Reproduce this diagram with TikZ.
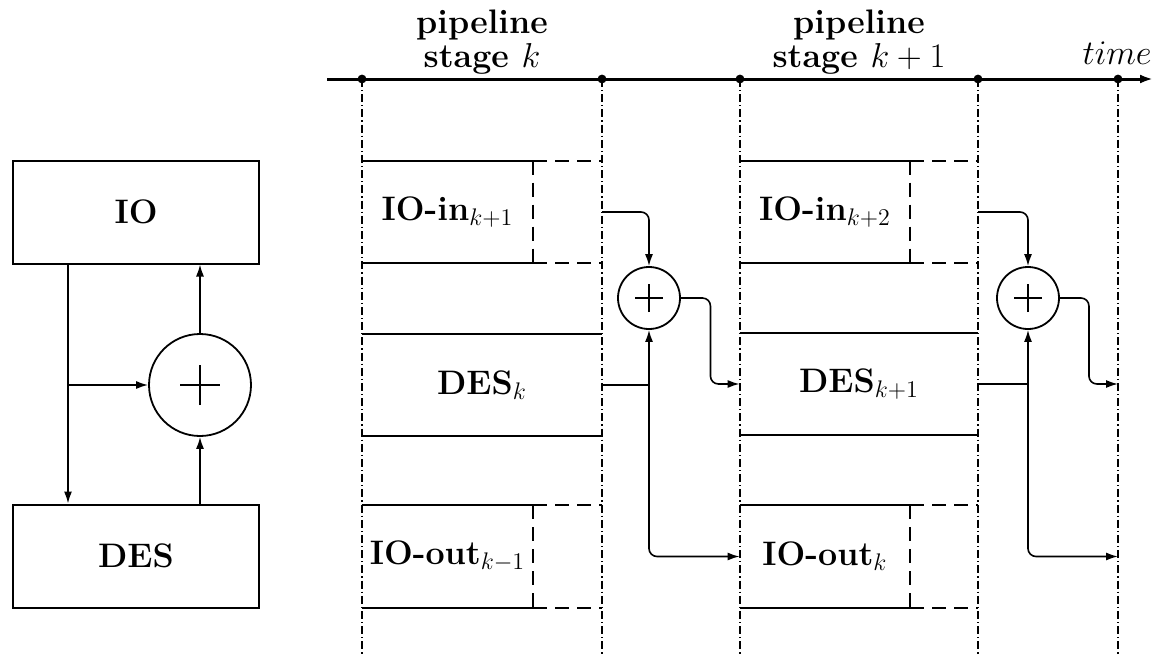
\documentclass[tikz,border=0pt]{standalone}
\usepackage{tikz}
\usetikzlibrary{arrows.meta,positioning,calc}
\newcommand{\lblfont}{\fontsize{17}{17}\selectfont\bfseries}

\begin{document}
\begin{tikzpicture}[
    x=0.5pt, y=-0.5pt,
    block/.style={draw, line width=1pt, minimum width=123pt, minimum height=51.5pt, font=\lblfont},
    slot/.style={inner sep=0pt, minimum height=51pt, font=\lblfont},
    edge/.style={line width=1pt},
    openedge/.style={line width=1pt, dash pattern=on 7pt off 4pt},
    stageline/.style={line width=0.8pt, dash pattern=on 4pt off 1.5pt on 0.6pt off 1.5pt},
    adder/.style={circle, draw, line width=0.9pt, inner sep=0pt,
      path picture={\draw[line width=0.7pt]
        ([xshift=-#1]path picture bounding box.center) -- ([xshift=#1]path picture bounding box.center)
        ([yshift=-#1]path picture bounding box.center) -- ([yshift=#1]path picture bounding box.center);}},
    arrow/.style={-{Latex[length=6pt,width=4pt]}, line width=0.8pt},
    wire/.style={line width=0.8pt},
    stagelabel/.style={anchor=south, inner sep=0pt, align=center, font=\lblfont}
  ]
    \useasboundingbox (0,0) rectangle (1163,659);

    % left: the loop
    \node[block] (io) at (136,212) {IO};
    \node[block] (des) at (136,556) {DES};
    \node[adder=10pt, minimum size=51pt] (sum) at (200,385) {};
    \coordinate (tap) at ([xshift=28pt]io.south west);
    \draw[arrow] (tap) -- (tap |- des.north);
    \draw[arrow] (sum.west -| tap) -- (sum);
    \draw[arrow] (des.north -| sum) -- (sum);
    \draw[arrow] (sum) -- (io.south -| sum);

    % time axis
    \coordinate (tstart) at (327,79);
    \coordinate (tend) at (1153,79);
    \coordinate (t0) at (362,79);
    \coordinate (t1) at (602,79);
    \coordinate (t2) at (740,79);
    \coordinate (t3) at (978,79);
    \coordinate (t4) at (1118,79);
    \coordinate (bottom) at (0,655);
    \draw[line width=1.5pt, -{Latex[length=6.5pt,width=4.5pt]}] (tstart) -- (tend);
    \node[anchor=base east, inner sep=0pt, font=\fontsize{17}{17}\selectfont] (timelbl) at (1152,64) {$time$};
    \node[stagelabel] (stageA) at (482,75) {pipeline\\stage $k$};
    \node[stagelabel] (stageB) at (859,75) {pipeline\\stage $k+1$};
    \draw[stageline] (t0) -- (t0 |- bottom) (t1) -- (t1 |- bottom) (t2) -- (t2 |- bottom)
      (t3) -- (t3 |- bottom) (t4) -- (t4 |- bottom);
    \fill (t0) circle (2.2pt) (t1) circle (2.2pt) (t2) circle (2.2pt) (t3) circle (2.2pt) (t4) circle (2.2pt);

    % stage k
    \node[slot, minimum width=85.5pt] (inA) at (447.5,212) {IO-in$_{k+1}$};
    \node[slot, minimum width=120pt] (desA) at (482,385) {DES$_k$};
    \node[slot, minimum width=85.5pt] (outA) at (447.5,556.5) {IO-out$_{k-1}$};
    \draw[edge] (inA.north west) -- (inA.north east) (inA.south west) -- (inA.south east);
    \draw[openedge] (inA.north east) -- (inA.south east)
      (inA.north east) -- (inA.north east -| t1) (inA.south east) -- (inA.south east -| t1);
    \draw[edge] (desA.north west) -- (desA.north east) (desA.south west) -- (desA.south east);
    \draw[edge] (outA.north west) -- (outA.north east) (outA.south west) -- (outA.south east);
    \draw[openedge] (outA.north east) -- (outA.south east)
      (outA.north east) -- (outA.north east -| t1) (outA.south east) -- (outA.south east -| t1);

    % stage k+1
    \node[slot, minimum width=85pt] (inB) at (825,212) {IO-in$_{k+2}$};
    \node[slot, minimum width=119pt] (desB) at (859,384) {DES$_{k+1}$};
    \node[slot, minimum width=85pt] (outB) at (825,556.5) {IO-out$_k$};
    \draw[edge] (inB.north west) -- (inB.north east) (inB.south west) -- (inB.south east);
    \draw[openedge] (inB.north east) -- (inB.south east)
      (inB.north east) -- (inB.north east -| t3) (inB.south east) -- (inB.south east -| t3);
    \draw[edge] (desB.north west) -- (desB.north east) (desB.south west) -- (desB.south east);
    \draw[edge] (outB.north west) -- (outB.north east) (outB.south west) -- (outB.south east);
    \draw[openedge] (outB.north east) -- (outB.south east)
      (outB.north east) -- (outB.north east -| t3) (outB.south east) -- (outB.south east -| t3);

    % adders between the stages
    \node[adder=7pt, minimum size=31pt] (sumA) at (649,298) {};
    \node[adder=7pt, minimum size=31pt] (sumB) at (1028,298) {};

    \draw[arrow, rounded corners=4pt] (inA.east -| t1) -| (sumA);
    \draw[arrow, rounded corners=4pt] (sumA.east) -- ($(sumA.east)!.5!(sumA.east -| t2)$) |- (desB.west);
    \draw[wire] (desA.east) -- (desA.east -| sumA);
    \draw[arrow] (desA.east -| sumA) -- (sumA);
    \draw[arrow, rounded corners=4pt] (desA.east -| sumA) |- (outB.west);

    \draw[arrow, rounded corners=4pt] (inB.east -| t3) -| (sumB);
    \draw[arrow, rounded corners=4pt] (sumB.east) -- ($(sumB.east)!.5!(sumB.east -| t4)$) |- (t4 |- desB.east);
    \draw[wire] (desB.east) -- (desB.east -| sumB);
    \draw[arrow] (desB.east -| sumB) -- (sumB);
    \draw[arrow, rounded corners=4pt] (desB.east -| sumB) |- (t4 |- outB.west);
  \end{tikzpicture}
\end{document}
